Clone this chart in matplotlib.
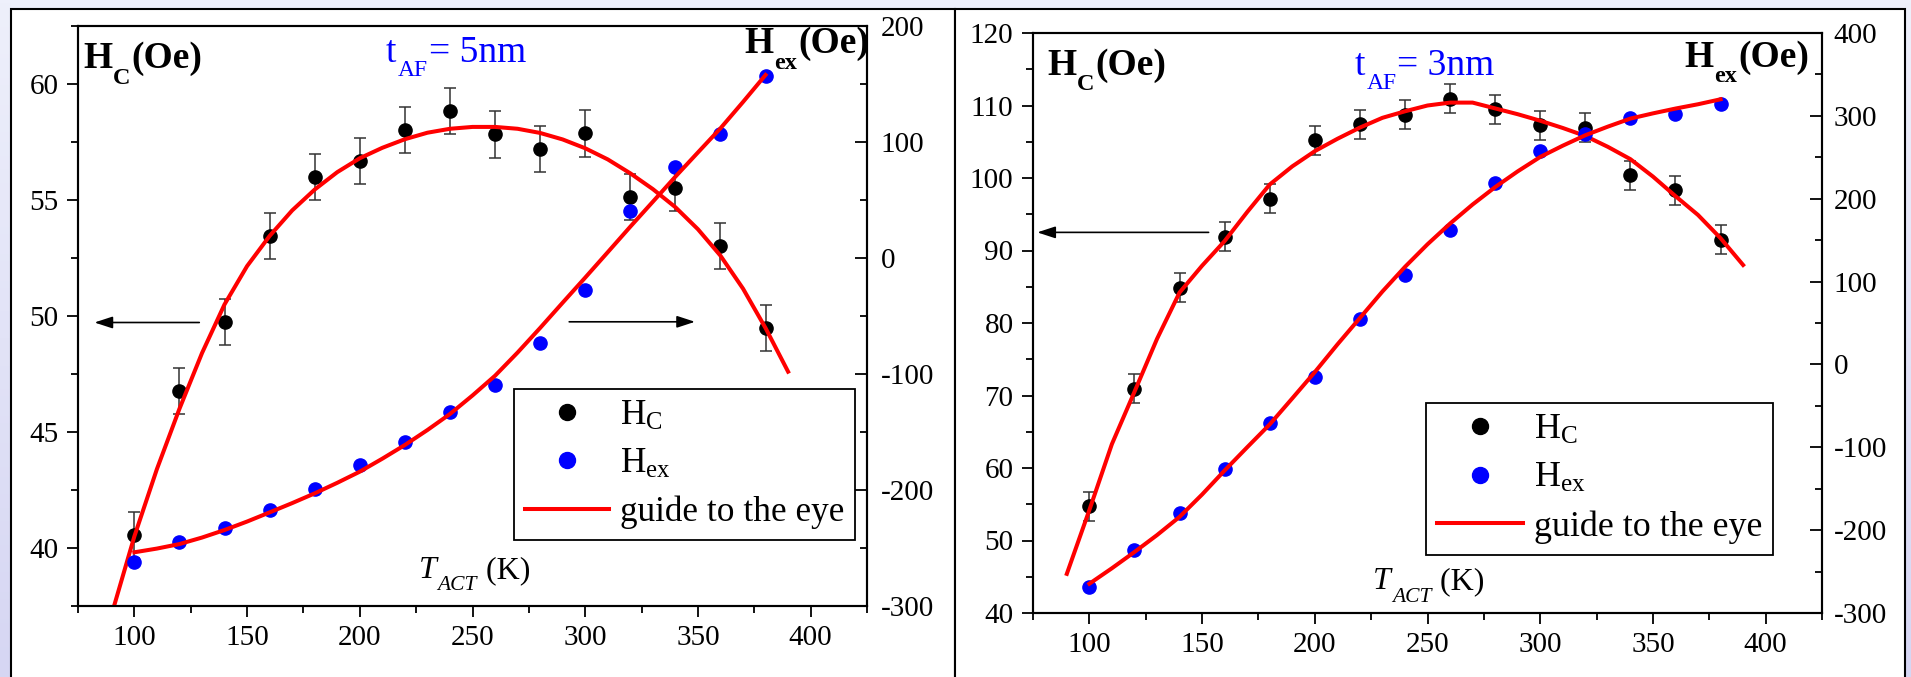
import numpy as np
import matplotlib
matplotlib.use("Agg")
import matplotlib.pyplot as plt
from matplotlib.patches import Rectangle
from matplotlib.lines import Line2D
from matplotlib.ticker import MultipleLocator
from matplotlib.transforms import offset_copy

plt.rcParams.update({
    "font.family": ["Liberation Serif", "DejaVu Serif"],
    "mathtext.fontset": "custom",
    "mathtext.rm": "Liberation Serif",
    "mathtext.it": "Liberation Serif:italic",
    "mathtext.bf": "Liberation Serif:bold",
    "axes.unicode_minus": False,
})

# ---------------- data ----------------
temps = [100, 120, 140, 160, 180, 200, 220, 240, 260, 280, 300, 320, 340, 360, 380]

# t_AF = 5 nm
hc_5nm = [40.56, 46.78, 49.75, 53.45, 56.0, 56.68, 58.02, 58.84, 57.83, 57.21,
          57.87, 55.14, 55.53, 53.02, 49.47]
hc_5nm_err = [1.0, 1.0, 1.0, 1.0, 1.0, 1.0, 1.0, 1.0, 1.0, 1.0, 1.0, 1.0, 1.0, 1.0, 1.0]
hex_5nm = [-262.3, -245.1, -233.0, -217.0, -199.1, -178.2, -158.6, -132.8, -109.5,
           -73.3, -27.6, 40.5, 78.7, 107.2, 156.9]

guide_hc_5nm_t = [91, 100, 110, 120, 130, 140, 150, 160, 170, 180, 190, 200, 210, 220,
                  230, 240, 250, 260, 270, 280, 290, 300, 310, 320, 330, 340, 350, 360,
                  370, 380, 390]
guide_hc_5nm = [37.5, 40.5, 43.4, 46.0, 48.4, 50.5, 52.15, 53.45, 54.55, 55.45, 56.2,
                56.8, 57.25, 57.62, 57.9, 58.07, 58.15, 58.15, 58.07, 57.89, 57.61, 57.23,
                56.75, 56.15, 55.47, 54.69, 53.74, 52.6, 51.18, 49.48, 47.6]
guide_hex_5nm_t = [100, 110, 120, 130, 140, 150, 160, 170, 180, 190, 200, 210, 220, 230,
                   240, 250, 260, 270, 280, 290, 300, 310, 320, 330, 340, 350, 360, 370, 380]
guide_hex_5nm = [-253.7, -250.5, -246.6, -241.0, -234.5, -227.2, -219.3, -211.3, -202.9,
                 -193.8, -184.2, -173.0, -161.2, -148.3, -134.5, -118.5, -101.5, -81.5,
                 -60.3, -38.5, -16.9, 5.0, 27.0, 48.5, 70.1, 91.0, 111.8, 134.5, 157.8]

# t_AF = 3 nm
hc_3nm = [54.74, 70.9, 84.85, 91.9, 97.14, 105.2, 107.4, 108.7, 110.95, 109.5, 107.3,
          106.95, 100.4, 98.3, 91.5]
hc_3nm_err = [2.0, 2.0, 2.0, 2.0, 2.0, 2.0, 2.0, 2.0, 2.0, 2.0, 2.0, 2.0, 2.0, 2.0, 2.0]
hex_3nm = [-268.6, -224.4, -179.0, -126.7, -70.4, -15.3, 54.6, 107.7, 162.8, 219.0,
           257.3, 278.6, 297.9, 302.7, 314.8]

guide_hc_3nm_t = [90, 100, 110, 120, 130, 140, 150, 160, 170, 180, 190, 200, 210, 220,
                  230, 240, 250, 260, 270, 280, 290, 300, 310, 320, 330, 340, 350, 360,
                  370, 380, 390]
guide_hc_3nm = [45.4, 54.2, 63.3, 70.5, 77.8, 84.2, 87.9, 91.3, 95.3, 99.1, 101.6, 103.7,
                105.4, 106.95, 108.3, 109.2, 110.0, 110.4, 110.4, 109.6, 108.8, 107.9,
                106.9, 105.8, 104.3, 102.6, 100.2, 97.5, 94.9, 91.7, 88.0]
guide_hex_3nm_t = [100, 110, 120, 130, 140, 150, 160, 170, 180, 190, 200, 210, 220, 230,
                   240, 250, 260, 270, 280, 290, 300, 310, 320, 330, 340, 350, 360, 370, 380]
guide_hex_3nm = [-264.7, -246.0, -226.4, -206.0, -184.0, -157.0, -128.0, -100.0, -72.4,
                 -41.0, -9.3, 24.0, 56.0, 88.0, 117.7, 145.0, 170.0, 193.0, 214.0, 233.0,
                 250.4, 264.0, 276.6, 287.0, 296.7, 303.0, 308.8, 314.0, 320.0]

x_ticks = [100, 150, 200, 250, 300, 350, 400]

# ---------------- styling ----------------
W, H = 1911, 677
BG = "#eef0fb"
RED = "#ff0000"
BLUE = "#0000ff"
LW_GUIDE = 2.9
MS = 9.5
TICK_FS = 21

fig = plt.figure(figsize=(W / 100, H / 100), dpi=100, facecolor=BG)
renderer = fig.canvas.get_renderer()


def fx(px):
    return px / W


def fy(py):
    return 1 - py / H


# soft bluish edge strips of the page
grad = np.linspace(0, 1, 200)[:, None]
for x0, x1 in [(0, 11), (1905, W)]:
    gax = fig.add_axes([fx(x0), 0, fx(x1 - x0), 1], zorder=-20)
    top = np.array([238, 240, 251]) / 255
    bot = np.array([214, 214, 243]) / 255
    img = top[None, None, :] * (1 - grad[:, :, None]) + bot[None, None, :] * grad[:, :, None]
    gax.imshow(img, aspect="auto", extent=[0, 1, 0, 1])
    gax.set_axis_off()

# white panel frames
for x0, x1 in [(11, 955), (955, 1905)]:
    r = Rectangle((fx(x0), -0.05), fx(x1 - x0), fy(9) + 0.05, transform=fig.transFigure,
                  facecolor="white", edgecolor="black", lw=1.5, zorder=-10)
    fig.add_artist(r)


def rich_text(ax, x, y, pieces, ha="left", color="black"):
    """Write text pieces side by side; each piece is
    (string, fontsize, weight, style, drop in pixels below the baseline)."""
    widths = []
    for s, fs, wt, st, dy in pieces:
        t = fig.text(0, 0, s, fontsize=fs, fontweight=wt, fontstyle=st)
        widths.append(t.get_window_extent(renderer).width)
        t.remove()
    x0 = -sum(widths) if ha == "right" else 0.0
    for (s, fs, wt, st, dy), w in zip(pieces, widths):
        tr = offset_copy(ax.transAxes, fig=fig, x=x0, y=-dy, units="dots")
        ax.text(x, y, s, transform=tr, fontsize=fs, fontweight=wt, fontstyle=st,
                color=color, ha="left", va="baseline", zorder=6)
        x0 += w + 1


def draw_panel(rect, hc, hc_err, hx, g_hc_t, g_hc, g_hx_t, g_hx, hc_lim, hc_step,
               hx_lim, thick_label, legend_anchor, legend_fs, arrows, right_pad, txt,
               drops):
    ax = fig.add_axes(rect)
    ax2 = ax.twinx()

    ax.errorbar(temps, hc, yerr=hc_err, fmt="none", ecolor="#333333", elinewidth=1.1,
                capsize=4.5, capthick=1.1, zorder=2)
    ax.plot(temps, hc, "o", color="black", ms=MS, zorder=3)
    ax.plot(g_hc_t, g_hc, color=RED, lw=LW_GUIDE, zorder=5)

    ax2.plot(temps, hx, "o", color=BLUE, ms=MS, zorder=3)
    ax2.plot(g_hx_t, g_hx, color=RED, lw=LW_GUIDE, zorder=5)

    ax.set_xlim(75, 425)
    ax.set_ylim(*hc_lim)
    ax2.set_ylim(*hx_lim)
    ax.set_xticks(x_ticks)
    ax.xaxis.set_minor_locator(MultipleLocator(25))
    ax.yaxis.set_major_locator(MultipleLocator(hc_step))
    ax.yaxis.set_minor_locator(MultipleLocator(hc_step / 2))
    ax2.yaxis.set_major_locator(MultipleLocator(100))
    ax2.yaxis.set_minor_locator(MultipleLocator(50))

    ax.tick_params(which="both", direction="out", top=False, right=False, width=1.3,
                   colors="black")
    ax.tick_params(which="major", length=8, labelsize=TICK_FS, pad=6)
    ax.tick_params(which="minor", length=5)
    ax2.tick_params(axis="y", which="both", direction="in", left=False, right=True,
                    width=1.3)
    ax2.tick_params(axis="y", which="major", length=8.5, labelsize=TICK_FS, pad=right_pad)
    ax2.tick_params(axis="y", which="minor", length=5)

    for a in (ax, ax2):
        for s in a.spines.values():
            s.set_linewidth(1.5)

    for (xs, xe, yv) in arrows:
        ax.annotate("", xy=(xe, yv), xytext=(xs, yv),
                    arrowprops=dict(arrowstyle="-|>,head_length=11,head_width=3.6",
                                    mutation_scale=1, lw=1.2, color="black",
                                    shrinkA=0, shrinkB=0), zorder=4)

    (hcx, hcy), (tx, ty), (hxx, hxy), (kx, ky) = txt
    d_hc, d_t, d_hx, d_k = drops
    rich_text(ax2, hcx, hcy, [("H", 27, "bold", "normal", 0),
                              ("C", 17.5, "bold", "normal", d_hc),
                              ("(Oe)", 27, "bold", "normal", 0)])
    rich_text(ax2, tx, ty, [("t", 27, "normal", "normal", 0),
                            ("AF", 17, "normal", "normal", d_t),
                            ("= " + thick_label, 27, "normal", "normal", 0)], color=BLUE)
    rich_text(ax2, hxx, hxy, [("H", 27, "bold", "normal", 0),
                              ("ex", 17.5, "bold", "normal", d_hx),
                              ("(Oe)", 27, "bold", "normal", 0)], ha="right")
    rich_text(ax2, kx, ky, [("T", 23, "normal", "italic", 0),
                            ("ACT", 15.5, "normal", "italic", d_k),
                            (" (K)", 23, "normal", "normal", 0)])

    handles = [
        Line2D([], [], ls="none", marker="o", color="black", ms=11.5),
        Line2D([], [], ls="none", marker="o", color=BLUE, ms=11.5),
        Line2D([], [], color=RED, lw=LW_GUIDE),
    ]
    labels = [r"H$_\mathrm{C}$", r"H$_\mathrm{ex}$", "guide to the eye"]
    leg = ax2.legend(handles, labels, loc="upper left", bbox_to_anchor=legend_anchor,
                     bbox_transform=ax.transAxes, fontsize=legend_fs, frameon=True,
                     fancybox=False, framealpha=1, edgecolor="black", borderpad=0.3,
                     handlelength=2.4, handletextpad=0.3, labelspacing=0.42,
                     borderaxespad=0)
    leg.get_frame().set_linewidth(1.3)
    return ax, ax2


ax_w = fx(867 - 78)
ax_h = (606 - 26) / H

draw_panel([fx(78), fy(606), ax_w, ax_h],
           hc_5nm, hc_5nm_err, hex_5nm,
           guide_hc_5nm_t, guide_hc_5nm, guide_hex_5nm_t, guide_hex_5nm,
           (37.5, 62.5), 5, (-300, 200), "5nm",
           (0.5526, 0.3741), 25.4,
           [(128.8, 82.3, 49.72), (292.9, 348.7, 49.75)],
           10,
           [(0.0063, 0.9276), (0.3904, 0.938), (1.0, 0.953), (0.432, 0.048)],
           (16, 14, 16, 12))

draw_panel([fx(1033), fy(613), ax_w, ax_h],
           hc_3nm, hc_3nm_err, hex_3nm,
           guide_hc_3nm_t, guide_hc_3nm, guide_hex_3nm_t, guide_hex_3nm,
           (40, 120), 10, (-300, 400), "3nm",
           (0.4981, 0.3621), 25.9,
           [(152.9, 76.9, 92.5)],
           8.5,
           [(0.0177, 0.9276), (0.408, 0.9276), (0.981, 0.941), (0.431, 0.041)],
           (15, 14, 15, 13))

fig.savefig("out.png", dpi=100, facecolor=BG)
